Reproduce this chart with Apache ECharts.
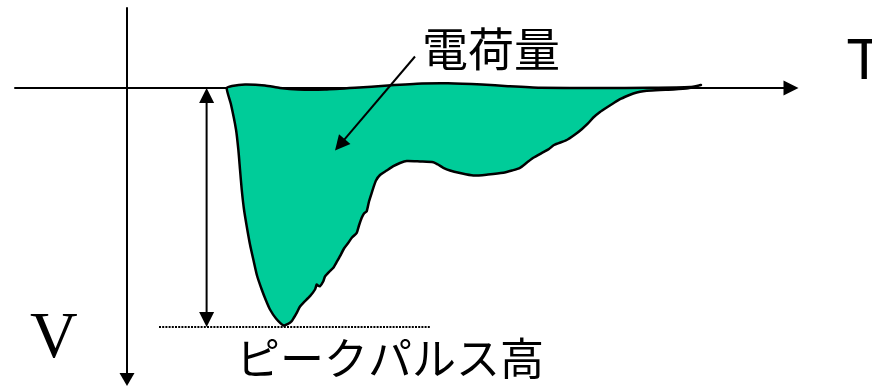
<!DOCTYPE html>
<html><head><meta charset="utf-8">
<script src="https://cdn.jsdelivr.net/npm/echarts@6/dist/echarts.min.js"></script>
<style>html,body{margin:0;padding:0;background:#fff}#c{width:872px;height:388px}</style>
</head><body><div id="c"></div>
<script>
// Axis ranges: time t (right), voltage V (downward). Peak pulse height = 100.
const tRange = [-28, 166];
const vRange = [-33.5, 122];
const peakV = 100;

// Pulse outline, lower contour (left -> right)
const pulseT = [24.93,26.0,27.25,27.83,28.25,28.68,29.25,29.93,30.75,31.58,32.5,33.68,34.75,35.75,37.25,39.1,
  40.25,41.18,41.75,42.43,43.25,44.08,45.75,47.0,47.43,47.88,48.25,49.08,49.5,50.75,51.58,52.5,53.25,54.25,55.33,
  56.25,57.43,58.0,58.68,59.25,59.93,60.5,61.18,61.58,62.25,63.25,64.93,66.58,68.25,69.93,73.25,76.58,77.75,79.08,
  80.75,83.25,86.58,90.25,94.08,96.25,98.25,100.0,101.58,104.08,105.5,106.75,109.93,112.0,113.68,115.25,116.58,
  118.25,119.93,121.5,123.25,125.0,126.58,128.25,129.93,133.25,136.58,140.25,143.5];
const pulseV = [0.08,6.9,17.36,25.73,34.1,42.47,50.84,57.82,65.48,71.76,78.45,84.31,88.91,92.68,96.44,99.3,
  98.74,97.57,96.03,94.06,91.42,89.87,87.11,84.31,82.22,82.85,82.93,80.84,78.87,76.57,75.23,72.59,70.38,67.15,64.77,
  62.55,60.59,57.53,54.31,52.51,51.55,47.49,43.85,41.76,38.7,36.4,34.52,32.72,31.38,30.54,30.75,31.05,32.01,33.39,
  34.52,35.56,36.61,36.19,35.48,34.52,33.39,31.17,29.21,26.86,25.52,23.85,21.76,19.46,17.24,14.85,12.34,
  10.04,8.16,6.49,4.69,3.35,2.3,1.55,1.17,0.84,0.63,0.13,-1.26];
// Pulse outline, top contour (right -> left)
const topT = [140.75,130.75,118.25,103.25,95.25,88.75,80.25,73.75,65.25,57.0,49.5,42.75,38.25,34.5,29.5,26.25];
const topV = [-0.38,-0.08,-0.04,-0.08,-0.75,-1.46,-2.01,-1.88,-1.05,-0.08,0.63,0.63,0,-1.05,-1.46,-0.84];

// Annotations: [t1, V1, t2, V2, headAtStart, headAtEnd]
const peakArrow = [19.9, 0, 19.9, peakV, 1, 1];
const chargeArrow = [72, -13.18, 52, 26.15, 0, 1];
const peakGuideT = [8, 75.75];

const labelCharge = '電荷量';
const labelPeak = 'ピークパルス高';
const labelT = 'T';
const labelV = 'V';

const outline = pulseT.map((t, i) => [t, pulseV[i]]).concat(topT.map((t, i) => [t, topV[i]]));

const chart = echarts.init(document.getElementById('c'), null, {renderer: 'canvas'});

function renderPulse(params, api) {
  if (params.dataIndex !== 0) return null;
  const pts = outline.map(p => api.coord(p));
  return {type: 'polygon', shape: {points: pts, smooth: 0.2},
    style: {fill: '#00CC99', stroke: '#000', lineWidth: 2.5, lineJoin: 'round'}};
}

function renderArrow(params, api) {
  const a = api.coord([api.value(0), api.value(1)]);
  const b = api.coord([api.value(2), api.value(3)]);
  const hs = api.value(4), he = api.value(5);
  const dx = b[0] - a[0], dy = b[1] - a[1];
  const len = Math.hypot(dx, dy), ux = dx / len, uy = dy / len;
  const L = 15, W = 7.5;
  const children = [];
  const s = hs ? [a[0] + ux * (L - 2), a[1] + uy * (L - 2)] : a;
  const e = he ? [b[0] - ux * (L - 2), b[1] - uy * (L - 2)] : b;
  children.push({type: 'line', shape: {x1: s[0], y1: s[1], x2: e[0], y2: e[1]},
    style: {stroke: '#000', lineWidth: 2}});
  function head(tip, vx, vy) {
    const bx = tip[0] - vx * L, by = tip[1] - vy * L;
    return {type: 'polygon', shape: {points: [tip, [bx - vy * W, by + vx * W], [bx + vy * W, by - vx * W]]},
      style: {fill: '#000'}};
  }
  if (hs) children.push(head(a, -ux, -uy));
  if (he) children.push(head(b, ux, uy));
  return {type: 'group', children};
}

chart.setOption({
  animation: false,
  backgroundColor: '#fff',
  grid: {left: 15, right: 81, top: 7.935, bottom: 8.42, containLabel: false},
  xAxis: {type: 'value', min: tRange[0], max: tRange[1],
    axisLine: {onZero: true, lineStyle: {color: '#000', width: 2}, symbol: ['none', 'triangle'], symbolSize: [15, 15]},
    axisTick: {show: false}, axisLabel: {show: false}, splitLine: {show: false}},
  yAxis: {type: 'value', inverse: true, min: vRange[0], max: vRange[1],
    axisLine: {onZero: true, lineStyle: {color: '#000', width: 2}, symbol: ['triangle', 'none'], symbolSize: [15, 13]},
    axisTick: {show: false}, axisLabel: {show: false}, splitLine: {show: false}},
  series: [
    {type: 'line', data: [[peakGuideT[0], peakV], [peakGuideT[1], peakV]], showSymbol: false, symbol: 'none',
      lineStyle: {color: '#000', width: 2, type: [2, 1.2]}, z: 1, silent: true},
    {type: 'custom', renderItem: renderPulse, data: outline, z: 2, silent: true},
    {type: 'custom', renderItem: renderArrow, data: [peakArrow, chargeArrow], z: 3, silent: true}
  ],
  graphic: [
    {type: 'text', x: 491, y: 49, style: {text: labelCharge, fill: '#000', font: '46px "Noto Sans CJK JP"', align: 'center', verticalAlign: 'middle'}},
    {type: 'text', x: 390, y: 358, style: {text: labelPeak, fill: '#000', font: '44px "Noto Sans CJK JP"', align: 'center', verticalAlign: 'middle'}},
    {type: 'text', x: 846.5, y: 62.5, style: {text: labelT, fill: '#000', font: '58px "Liberation Sans"', align: 'left', verticalAlign: 'middle'}},
    {type: 'text', x: 30, y: 340, style: {text: labelV, fill: '#000', font: '66px "Liberation Serif"', align: 'left', verticalAlign: 'middle'}}
  ]
});
</script></body></html>
